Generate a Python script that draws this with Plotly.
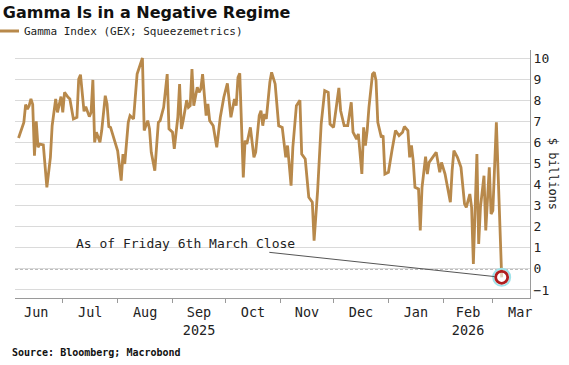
import plotly.graph_objects as go
import pandas as pd

title_text = "Gamma Is in a Negative Regime"
series_name = "Gamma Index (GEX; Squeezemetrics)"
source_text = "Source: Bloomberg; Macrobond"
note_text = "As of Friday 6th March Close"
y_title = "$ billions"

dates = [
    "2025-06-06", "2025-06-08", "2025-06-09", "2025-06-10", "2025-06-11", "2025-06-12", "2025-06-13",
    "2025-06-14", "2025-06-15", "2025-06-16", "2025-06-17", "2025-06-18", "2025-06-20", "2025-06-22",
    "2025-06-24", "2025-06-25", "2025-06-27", "2025-06-28", "2025-06-30", "2025-07-01", "2025-07-02",
    "2025-07-04", "2025-07-05", "2025-07-07", "2025-07-09", "2025-07-10", "2025-07-11", "2025-07-13",
    "2025-07-14", "2025-07-16", "2025-07-17", "2025-07-18", "2025-07-19", "2025-07-20", "2025-07-22",
    "2025-07-23", "2025-07-25", "2025-07-26", "2025-07-27", "2025-07-28", "2025-07-30", "2025-08-01",
    "2025-08-03", "2025-08-04", "2025-08-05", "2025-08-07", "2025-08-08", "2025-08-10", "2025-08-12",
    "2025-08-14", "2025-08-15", "2025-08-16", "2025-08-18", "2025-08-19", "2025-08-20", "2025-08-22",
    "2025-08-24", "2025-08-25", "2025-08-27", "2025-08-29", "2025-08-30", "2025-09-01", "2025-09-02",
    "2025-09-04", "2025-09-05", "2025-09-06", "2025-09-07", "2025-09-09", "2025-09-10", "2025-09-11",
    "2025-09-12", "2025-09-13", "2025-09-15", "2025-09-16", "2025-09-17", "2025-09-18", "2025-09-20",
    "2025-09-21", "2025-09-22", "2025-09-24", "2025-09-26", "2025-09-28", "2025-09-30", "2025-10-02",
    "2025-10-04", "2025-10-06", "2025-10-07", "2025-10-08", "2025-10-09", "2025-10-11", "2025-10-12",
    "2025-10-13", "2025-10-15", "2025-10-17", "2025-10-18", "2025-10-20", "2025-10-21", "2025-10-22",
    "2025-10-23", "2025-10-24", "2025-10-26", "2025-10-27", "2025-10-29", "2025-10-31", "2025-11-02",
    "2025-11-04", "2025-11-05", "2025-11-07", "2025-11-08", "2025-11-10", "2025-11-12", "2025-11-13",
    "2025-11-15", "2025-11-17", "2025-11-19", "2025-11-20", "2025-11-22", "2025-11-24", "2025-11-26",
    "2025-11-28", "2025-11-29", "2025-12-01", "2025-12-03", "2025-12-04", "2025-12-05", "2025-12-07",
    "2025-12-09", "2025-12-11", "2025-12-12", "2025-12-14", "2025-12-15", "2025-12-17", "2025-12-18",
    "2025-12-19", "2025-12-20", "2025-12-21", "2025-12-23", "2025-12-24", "2025-12-25", "2025-12-26",
    "2025-12-28", "2025-12-29", "2025-12-30", "2026-01-01", "2026-01-03", "2026-01-05", "2026-01-07",
    "2026-01-09", "2026-01-10", "2026-01-12", "2026-01-13", "2026-01-14", "2026-01-15", "2026-01-16",
    "2026-01-18", "2026-01-19", "2026-01-20", "2026-01-22", "2026-01-23", "2026-01-24", "2026-01-26",
    "2026-01-28", "2026-01-30", "2026-01-31", "2026-02-02", "2026-02-03", "2026-02-05", "2026-02-06",
    "2026-02-07", "2026-02-09", "2026-02-11", "2026-02-13", "2026-02-14", "2026-02-16", "2026-02-17",
    "2026-02-18", "2026-02-20", "2026-02-21", "2026-02-22", "2026-02-24", "2026-02-25", "2026-02-27",
    "2026-02-28", "2026-03-01", "2026-03-03", "2026-03-06",
]

gex = [
    6.21, 6.64, 6.95, 7.79, 7.58, 7.74, 8.06,
    7.80, 5.37, 7.00, 5.77, 5.92, 5.88, 3.87,
    5.29, 6.79, 8.06, 7.42, 8.17, 7.42, 8.37,
    8.14, 8.06, 7.11, 7.19, 9.00, 9.21, 7.47,
    7.69, 7.22, 7.42, 8.96, 6.00, 6.48, 6.00,
    6.56, 8.21, 7.82, 6.75, 6.71, 6.16, 5.60,
    4.19, 5.45, 4.98, 6.95, 7.27, 7.11, 9.24,
    9.79, 10.00, 6.56, 7.03, 6.64, 5.53, 4.66,
    6.95, 7.03, 7.66, 9.24, 6.64, 6.48, 5.69,
    7.19, 8.77, 6.64, 7.03, 8.00, 7.66, 7.74,
    9.48, 7.74, 8.61, 8.37, 8.53, 9.24, 7.27,
    7.82, 7.03, 6.79, 5.77, 7.19, 8.14, 8.80,
    7.19, 8.06, 7.74, 9.08, 9.27, 4.34, 6.08,
    5.92, 6.71, 5.29, 5.53, 7.27, 7.50, 6.79,
    7.35, 7.11, 8.85, 9.32, 8.77, 6.79, 6.71,
    5.29, 5.85, 3.95, 5.77, 7.74, 8.00, 5.45,
    5.21, 3.40, 3.16, 1.34, 3.71, 6.87, 8.45,
    8.37, 6.87, 6.71, 7.82, 8.58, 7.50, 6.79,
    6.79, 7.90, 6.48, 6.16, 6.40, 4.50, 6.71,
    5.85, 6.56, 7.66, 9.24, 9.32, 8.93, 6.95,
    6.24, 6.32, 4.50, 4.58, 5.61, 6.56, 6.32,
    6.48, 6.75, 6.56, 5.29, 5.85, 5.13, 3.87,
    3.79, 1.82, 3.87, 5.32, 4.50, 5.05, 5.29,
    5.53, 4.58, 5.05, 4.50, 4.03, 3.16, 4.66,
    5.61, 5.29, 4.82, 3.08, 2.92, 3.55, 2.92,
    0.24, 5.45, 1.18, 2.92, 4.42, 1.82, 4.82,
    2.60, 2.76, 6.95, -0.40,
]

month_labels = ["Jun", "Jul", "Aug", "Sep<br>2025", "Oct", "Nov", "Dec", "Jan", "Feb<br>2026", "Mar"]
month_starts = pd.date_range("2025-06-01", "2026-04-01", freq="MS")
month_mids = [month_starts[i] + (month_starts[i + 1] - month_starts[i]) / 2 for i in range(len(month_labels))]
y_ticks = list(range(-1, 11))
x_range = ["2025-06-04", "2026-03-22"]
y_range = [-1.38, 10.38]

LINE = "#B8894B"
MONO = "DejaVu Sans Mono"

fig = go.Figure()
fig.add_trace(go.Scatter(
    x=dates, y=gex, mode="lines", name=series_name,
    line=dict(color=LINE, width=2.8), showlegend=True,
))
# highlight on last point
fig.add_trace(go.Scatter(
    x=[dates[-1]], y=[gex[-1]], mode="markers", showlegend=False,
    marker=dict(size=17, color="rgba(0,0,0,0)", line=dict(color="#9fe3ea", width=2)),
))
fig.add_trace(go.Scatter(
    x=[dates[-1]], y=[gex[-1]], mode="markers", showlegend=False,
    marker=dict(size=12, color="rgba(255,255,255,0.6)", line=dict(color="#B01E1E", width=2.8)),
))

fig.add_hline(y=0, line=dict(color="#555555", width=1, dash="3px,2px"), layer="below")

fig.add_annotation(
    x=dates[-1], y=gex[-1], xref="x", yref="y",
    text=note_text, showarrow=True, arrowhead=0, arrowwidth=1, arrowcolor="#555555",
    ax=-316, ay=-34, standoff=7,
    font=dict(family=MONO, size=13, color="#222222"),
)
fig.add_annotation(
    x=1.045, y=0.5, xref="paper", yref="paper", xanchor="center", yanchor="middle",
    text=y_title, textangle=90,
    showarrow=False, font=dict(family=MONO, size=12, color="#222222"),
)
fig.add_annotation(
    x=-0.0097, y=-0.218, xref="paper", yref="paper", xanchor="left", yanchor="middle",
    text="<b>" + source_text + "</b>", showarrow=False,
    font=dict(family=MONO, size=10, color="#111111"),
)

fig.update_layout(
    width=569, height=365,
    margin=dict(l=15, r=39, t=50, b=67, autoexpand=False),
    paper_bgcolor="white", plot_bgcolor="white",
    title=dict(text="<b>" + title_text + "</b>", x=0.005, xanchor="left", y=0.967, yanchor="middle",
               font=dict(family="DejaVu Sans", size=16, color="#111111")),
    legend=dict(orientation="h", xref="paper", yref="paper",
                x=-0.0602, xanchor="left", y=1.0766, yanchor="middle",
                font=dict(family=MONO, size=11, color="#222222"), bgcolor="rgba(0,0,0,0)",
                itemwidth=30),
    xaxis=dict(
        type="date", range=x_range, showgrid=False, zeroline=False,
        tickmode="array", tickvals=month_mids, ticktext=month_labels, ticks="",
        ticklabelstandoff=2,
        tickfont=dict(family=MONO, size=13.5, color="#222222"),
        showline=True, linecolor="#9a9a9a", linewidth=1,
        minor=dict(tickmode="array", tickvals=list(month_starts), ticks="outside", ticklen=4,
                   tickcolor="#9a9a9a", showgrid=False),
    ),
    yaxis=dict(
        side="right", range=y_range, tickmode="array", tickvals=y_ticks,
        showgrid=True, gridcolor="#dadada", gridwidth=1, zeroline=False,
        showline=True, linecolor="#9a9a9a", linewidth=1, ticks="",
        tickfont=dict(family=MONO, size=13, color="#222222"),
    ),
)

fig.write_html("out.html", config={"displayModeBar": False},
               post_script="document.body.style.margin='0';")
